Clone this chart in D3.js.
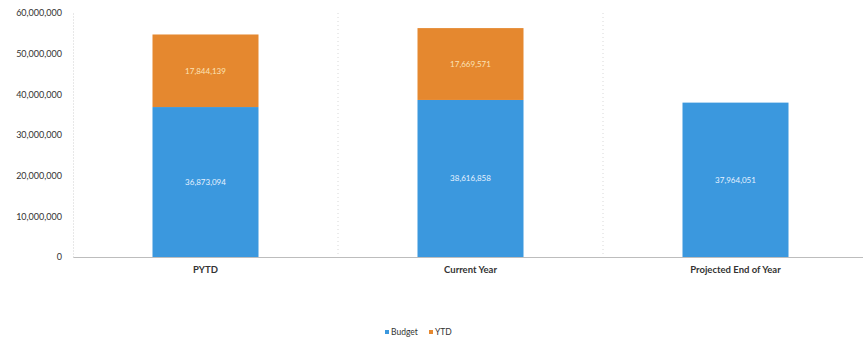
<!DOCTYPE html>
<html>
<head>
<meta charset="utf-8">
<script src="https://cdn.jsdelivr.net/npm/d3@7"></script>
<style>
  body { margin: 0; background: #fff; }
  svg { display: block; font-family: Lato, "Open Sans", sans-serif; }
</style>
</head>
<body>
<div id="chart"></div>
<script>
// chart data
let categories = ["PYTD", "Current Year", "Projected End of Year"];
let budgetValues = [36873094, 38616858, 37964051];
let ytdValues = [17844139, 17669571, 0];
let seriesNames = ["Budget", "YTD"];
let yTicks = [0, 10000000, 20000000, 30000000, 40000000, 50000000, 60000000];

let colors = { Budget: "#3b98de", YTD: "#e5882f" };
let fontFam = "Lato, 'Open Sans', sans-serif";

let margin = { top: 13, right: 0, bottom: 82, left: 73 };
let totalW = 863, totalH = 339;
let width = totalW - margin.left - margin.right;
let height = totalH - margin.top - margin.bottom;

let svg = d3.select("#chart").append("svg")
    .attr("width", totalW)
    .attr("height", totalH);

let g = svg.append("g")
    .attr("transform", "translate(" + margin.left + "," + margin.top + ")");

// scales
let x = d3.scaleBand()
    .domain(categories)
    .range([0, 795])
    .padding(0);

let y = d3.scaleLinear()
    .domain([0, 60000000])
    .range([height, 0]);

let barW = x.bandwidth() * 0.4;

// build stacked rows
let rows = categories.map(function (c, i) {
    return { cat: c, Budget: budgetValues[i], YTD: ytdValues[i] };
});
let stack = d3.stack().keys(seriesNames)(rows);

// dotted category separators
g.selectAll(".sep")
    .data(categories.slice(1))
    .join("line")
    .attr("class", "sep")
    .attr("x1", function (d) { return x(d); })
    .attr("x2", function (d) { return x(d); })
    .attr("y1", 0)
    .attr("y2", height)
    .attr("stroke", "#d8d8d8")
    .attr("stroke-width", 1)
    .attr("stroke-dasharray", "1,3");

// y axis
let yAxis = g.append("g")
    .attr("font-family", fontFam)
    .call(d3.axisLeft(y).tickValues(yTicks).tickFormat(d3.format(",")).tickSize(0).tickPadding(11));
yAxis.attr("font-family", fontFam);
yAxis.select(".domain").attr("stroke", "#d0d0d0").attr("stroke-dasharray", "1,2");
yAxis.selectAll("text")
    .attr("font-size", "9px")
    .attr("fill", "#333");

// x axis
let xAxis = g.append("g")
    .attr("transform", "translate(0," + height + ")")
    .call(d3.axisBottom(x).tickSize(0).tickPadding(9));
xAxis.attr("font-family", fontFam);
xAxis.select(".domain").attr("stroke", "#bdbdbd");
xAxis.selectAll("text")
    .attr("font-size", "9.5px")
    .attr("font-weight", "bold")
    .attr("fill", "#333");

// bars
let layers = g.selectAll(".layer")
    .data(stack)
    .join("g")
    .attr("class", "layer")
    .attr("fill", function (d) { return colors[d.key]; });

layers.selectAll("rect")
    .data(function (d) { return d.filter(function (p) { return p[1] - p[0] > 0; }); })
    .join("rect")
    .attr("x", function (d) { return x(d.data.cat) + (x.bandwidth() - barW) / 2; })
    .attr("y", function (d) { return y(d[1]); })
    .attr("width", barW)
    .attr("height", function (d) { return y(d[0]) - y(d[1]); });

// data labels
layers.selectAll("text")
    .data(function (d) {
        return d.filter(function (p) { return p[1] - p[0] > 0; })
            .map(function (p) { return { p: p, key: d.key }; });
    })
    .join("text")
    .attr("x", function (d) { return x(d.p.data.cat) + x.bandwidth() / 2; })
    .attr("y", function (d) { return (y(d.p[0]) + y(d.p[1])) / 2; })
    .attr("dy", "0.35em")
    .attr("text-anchor", "middle")
    .attr("font-size", "8px")
    .attr("fill", function (d) { return d.key === "YTD" ? "#fbe3b8" : "#e6f2ff"; })
    .text(function (d) { return d3.format(",")(d.p[1] - d.p[0]); });

// legend
let legend = svg.append("g")
    .attr("transform", "translate(385,332)");

let legendX = [0, 44];
let items = legend.selectAll(".item")
    .data(seriesNames)
    .join("g")
    .attr("class", "item")
    .attr("transform", function (d, i) { return "translate(" + legendX[i] + ",0)"; });

items.append("rect")
    .attr("x", 0)
    .attr("y", -2)
    .attr("width", 4)
    .attr("height", 4)
    .attr("fill", function (d) { return colors[d]; });

items.append("text")
    .attr("x", 6)
    .attr("dy", "0.35em")
    .attr("font-size", "8.5px")
    .attr("fill", "#333")
    .text(function (d) { return d; });
</script>
</body>
</html>
